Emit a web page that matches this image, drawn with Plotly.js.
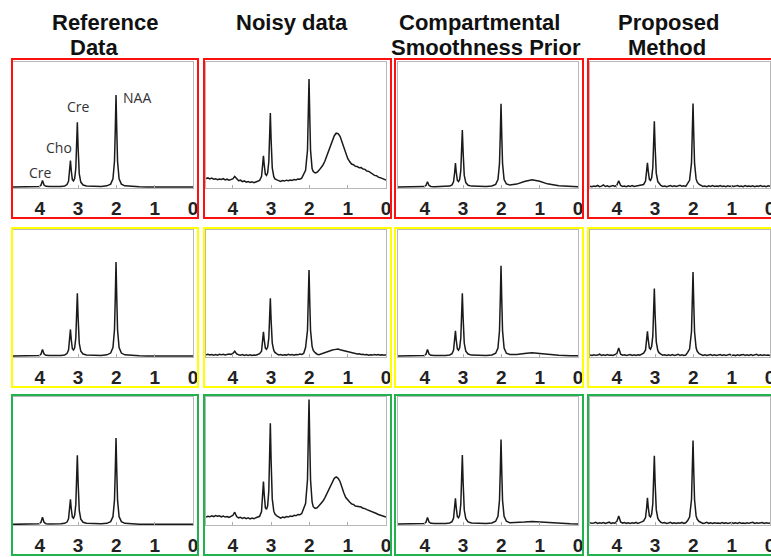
<!DOCTYPE html>
<html><head><meta charset="utf-8">
<script src="https://cdn.plot.ly/plotly-3.0.1.min.js"></script>
<style>html,body{margin:0;padding:0;background:#fff;} #chart{width:771px;height:557px;}</style>
</head><body><div id="chart"></div>
<script>
// ---------- data ----------
const columnTitles = [["Reference","Data"],["Noisy data"],["Compartmental","Smoothness Prior"],["Proposed","Method"]];
const tickValues = [4,3,2,1,0];
const tickLabels = ["4","3","2","1","0"];
const peakNames = ["Cre","Cho","Cre","NAA"];

// chemical-shift grids (ppm)
const ppmClean = [4.70,4.45,4.25,4.10,4.02,3.97,3.93,3.89,3.84,3.75,3.60,3.45,3.35,3.29,3.25,3.22,3.20,3.18,3.15,3.12,3.09,3.06,3.04,3.02,3.00,2.97,2.93,2.87,2.78,2.60,2.40,2.25,2.15,2.09,2.05,2.03,2.01,1.99,1.97,1.93,1.87,1.78,1.60,1.40,1.20,1.00,0.80,0.50,0.20,0.00];
const ppmDense = [4.70,4.65,4.60,4.55,4.50,4.45,4.40,4.35,4.30,4.25,
4.20,4.15,4.10,4.05,4.00,3.95,3.90,3.85,3.80,3.75,
3.70,3.65,3.60,3.55,3.50,3.45,3.40,3.35,3.30,3.25,
3.22,3.20,3.18,3.15,3.12,3.09,3.06,3.04,3.02,3.00,
2.97,2.93,2.90,2.85,2.80,2.75,2.70,2.65,2.60,2.55,
2.50,2.45,2.40,2.35,2.30,2.25,2.20,2.15,2.10,2.05,
2.03,2.01,1.99,1.97,1.93,1.90,1.85,1.80,1.75,1.70,
1.65,1.60,1.55,1.50,1.45,1.40,1.35,1.30,1.25,1.20,
1.15,1.10,1.05,1.00,0.95,0.90,0.85,0.80,0.75,0.70,
0.65,0.60,0.55,0.50,0.45,0.40,0.35,0.30,0.25,0.20,
0.15,0.10,0.05,0.00];

// Row 1 (red)
const refRow1 = [.008,.008,.008,.009,.012,.022,.059,.023,.013,.011,.010,.012,.016,.027,.054,.138,.218,.142,.066,.056,.075,.157,.324,.522,.322,.112,.047,.024,.016,.012,.012,.017,.031,.073,.212,.453,.738,.453,.212,.073,.031,.017,.011,.009,.008,.008,.008,.008,.008,.008];
const noisyRow1 = [.075,.080,.072,.078,.070,.074,.066,.072,.068,.074,
.064,.070,.062,.066,.072,.092,.070,.058,.062,.050,
.056,.046,.052,.044,.050,.042,.048,.052,.060,.090,
.180,.255,.185,.110,.100,.120,.210,.385,.595,.383,
.160,.090,.072,.064,.058,.052,.060,.055,.062,.058,
.064,.060,.068,.064,.072,.070,.078,.110,.140,.300,
.560,.865,.560,.300,.155,.130,.120,.125,.140,.158,
.180,.210,.250,.300,.345,.385,.415,.435,.432,.410,
.365,.315,.270,.235,.210,.190,.185,.172,.170,.160,
.162,.150,.148,.135,.132,.120,.115,.100,.098,.086,
.082,.074,.072,.064];
const compRow1 = [.008,.008,.008,.009,.011,.020,.049,.020,.012,.010,.010,.011,.015,.025,.049,.125,.197,.129,.060,.051,.068,.140,.287,.461,.285,.100,.043,.022,.015,.012,.012,.016,.029,.067,.193,.411,.668,.411,.193,.067,.032,.023,.031,.051,.066,.053,.033,.018,.012,.010];
const propRow1 = [.014,.010,.016,.012,.020,.011,.015,.024,.012,.017,
.010,.014,.019,.013,.022,.058,.020,.012,.016,.011,
.018,.013,.020,.012,.016,.014,.019,.022,.028,.055,
.132,.200,.136,.068,.060,.081,.163,.329,.530,.328,
.118,.051,.035,.020,.012,.016,.011,.015,.020,.013,
.017,.012,.016,.022,.014,.018,.013,.034,.061,.197,
.414,.670,.414,.197,.072,.046,.028,.018,.012,.016,
.011,.017,.013,.019,.012,.016,.013,.020,.012,.016,
.011,.018,.013,.017,.012,.015,.020,.012,.016,.011,
.019,.013,.016,.012,.018,.011,.016,.013,.019,.012,
.015,.011,.017,.013];

// Row 2 (yellow)
const refRow2 = [.008,.008,.008,.009,.012,.022,.059,.023,.013,.011,.010,.012,.016,.027,.054,.138,.217,.141,.065,.055,.073,.151,.311,.502,.310,.108,.046,.023,.016,.012,.012,.017,.031,.074,.215,.459,.748,.459,.215,.074,.031,.017,.011,.009,.008,.008,.008,.008,.008,.008];
const noisyRow2 = [.018,.022,.016,.020,.014,.019,.015,.021,.017,.022,
.016,.020,.024,.020,.028,.045,.024,.018,.014,.019,
.012,.017,.013,.018,.012,.016,.014,.020,.026,.045,
.131,.198,.135,.070,.061,.078,.148,.292,.463,.290,
.110,.052,.036,.024,.016,.020,.014,.018,.015,.021,
.016,.019,.014,.020,.017,.024,.020,.028,.074,.210,
.425,.685,.425,.210,.084,.052,.034,.022,.018,.024,
.030,.036,.042,.046,.052,.055,.058,.060,.062,.057,
.053,.048,.044,.040,.036,.034,.030,.028,.024,.026,
.020,.022,.017,.020,.014,.018,.015,.019,.016,.020,
.015,.018,.014,.017];
const compRow2 = [.008,.008,.008,.009,.012,.022,.059,.023,.013,.011,.010,.012,.016,.026,.052,.131,.207,.136,.064,.054,.073,.151,.311,.502,.310,.108,.046,.023,.015,.012,.011,.016,.030,.071,.207,.441,.718,.441,.207,.071,.030,.020,.020,.027,.033,.028,.020,.013,.010,.009];
const propRow2 = [.016,.012,.018,.013,.015,.022,.012,.017,.013,.020,
.014,.016,.012,.018,.026,.072,.022,.014,.018,.012,
.016,.020,.013,.017,.012,.018,.015,.021,.030,.056,
.133,.202,.138,.070,.062,.084,.166,.335,.540,.334,
.120,.052,.034,.022,.014,.018,.012,.017,.013,.019,
.012,.016,.022,.013,.017,.012,.016,.036,.063,.199,
.416,.670,.416,.199,.072,.045,.026,.016,.013,.018,
.012,.016,.020,.013,.017,.012,.015,.019,.012,.017,
.013,.016,.021,.012,.015,.011,.018,.013,.016,.020,
.012,.017,.013,.019,.012,.016,.021,.013,.017,.012,
.018,.013,.016,.012];

// Row 3 (green)
const refRow3 = [.005,.005,.005,.006,.009,.021,.061,.021,.010,.008,.007,.009,.013,.023,.048,.126,.200,.131,.061,.053,.075,.161,.335,.544,.334,.114,.046,.021,.013,.009,.009,.013,.026,.065,.194,.417,.680,.417,.194,.065,.026,.013,.008,.006,.005,.005,.005,.005,.005,.005];
const noisyRow3 = [.062,.068,.064,.072,.066,.074,.068,.072,.064,.070,
.062,.066,.060,.066,.074,.100,.066,.056,.060,.052,
.058,.050,.056,.048,.054,.050,.056,.060,.068,.105,
.230,.340,.240,.135,.122,.150,.267,.507,.795,.504,
.204,.108,.085,.072,.060,.054,.062,.058,.066,.062,
.070,.066,.076,.072,.082,.080,.090,.127,.168,.354,
.640,.980,.640,.354,.180,.143,.130,.135,.150,.165,
.185,.210,.240,.275,.310,.340,.365,.375,.365,.340,
.290,.250,.215,.195,.180,.165,.160,.148,.145,.138,
.140,.130,.128,.120,.115,.108,.104,.095,.090,.082,
.078,.070,.068,.062];
const compRow3 = [.008,.008,.008,.009,.012,.022,.059,.023,.013,.011,.010,.012,.016,.026,.052,.132,.208,.137,.065,.057,.078,.164,.339,.547,.337,.117,.049,.024,.016,.012,.011,.016,.029,.067,.193,.411,.668,.411,.193,.067,.029,.018,.018,.023,.028,.024,.017,.012,.009,.008];
const propRow3 = [.018,.013,.016,.021,.012,.017,.014,.019,.012,.016,
.022,.013,.018,.014,.028,.070,.024,.015,.019,.013,
.017,.012,.018,.014,.020,.013,.017,.024,.032,.058,
.138,.212,.142,.072,.063,.085,.166,.335,.540,.334,
.120,.053,.036,.021,.015,.019,.012,.016,.021,.013,
.017,.012,.018,.014,.020,.013,.017,.035,.062,.197,
.410,.660,.410,.197,.071,.044,.027,.017,.012,.016,
.021,.013,.017,.012,.018,.014,.016,.012,.019,.013,
.017,.012,.015,.020,.013,.017,.012,.019,.014,.016,
.012,.018,.013,.016,.021,.012,.017,.013,.016,.019,
.012,.017,.013,.016];

// ---------- layout ----------
const W = 771, H = 557;
const panels = [
  [ppmClean, refRow1],[ppmDense, noisyRow1],[ppmClean, compRow1],[ppmDense, propRow1],
  [ppmClean, refRow2],[ppmDense, noisyRow2],[ppmClean, compRow2],[ppmDense, propRow2],
  [ppmClean, refRow3],[ppmDense, noisyRow3],[ppmClean, compRow3],[ppmDense, propRow3]
];
const colPx = [[13,193],[206,386],[398,578],[590,770]];
const rowPx = [[62,188],[230,357],[397,525]];
const frameX = [[12,198],[204,391],[395,583],[588,784]];
const frameY = [[59,218],[228,387],[395,555]];
const rowColors = ['#ff1010','#ffff00','#22b14c'];

const traces = [];
const layout = {
  width: W, height: H,
  margin: {l:0, r:0, t:0, b:0, pad:0},
  paper_bgcolor: '#fff', plot_bgcolor: '#fff',
  showlegend: false,
  shapes: [], annotations: []
};

panels.forEach((p, i) => {
  const r = Math.floor(i / 4), c = i % 4;
  const s = i === 0 ? '' : String(i + 1);
  traces.push({
    type: 'scatter', mode: 'lines', x: p[0], y: p[1],
    xaxis: 'x' + s, yaxis: 'y' + s,
    line: {color: '#1a1a1a', width: 1.5},
    hoverinfo: 'skip'
  });
  layout['xaxis' + s] = {
    domain: [colPx[c][0] / W, colPx[c][1] / W], anchor: 'y' + s,
    range: [4.7, 0], autorange: false,
    showgrid: false, zeroline: false,
    showline: true, mirror: true, linecolor: '#b8b8b8', linewidth: 1,
    ticks: 'inside', ticklen: 3, tickcolor: '#aaaaaa', tickwidth: 1,
    tickvals: tickValues, ticktext: tickLabels,
    tickfont: {family: 'Liberation Sans, Arial, sans-serif', size: 19, color: '#222', weight: 'bold'},
    ticklabelstandoff: 3, ticklabeloverflow: 'allow', fixedrange: true
  };
  layout['yaxis' + s] = {
    domain: [1 - rowPx[r][1] / H, 1 - rowPx[r][0] / H], anchor: 'x' + s,
    range: [0, 1], autorange: false,
    showgrid: false, zeroline: false,
    showline: true, mirror: true, linecolor: '#b8b8b8', linewidth: 1,
    ticks: '', showticklabels: false, fixedrange: true
  };
  layout.shapes.push({
    type: 'rect', xref: 'paper', yref: 'paper',
    x0: frameX[c][0] / W, x1: frameX[c][1] / W,
    y0: 1 - frameY[r][1] / H, y1: 1 - frameY[r][0] / H,
    line: {color: rowColors[r], width: 2}, fillcolor: 'rgba(0,0,0,0)'
  });
});

// column titles
const titlePos = [[[105,23],[94,47]],[[292,23]],[[479,23],[486,47]],[[668,23],[667,47]]];
columnTitles.forEach((lines, c) => {
  lines.forEach((t, k) => {
    layout.annotations.push({
      xref: 'paper', yref: 'paper',
      x: titlePos[c][k][0] / W, y: 1 - titlePos[c][k][1] / H,
      xanchor: 'center', yanchor: 'middle', showarrow: false,
      text: t,
      font: {family: 'Liberation Sans, Arial, sans-serif', size: 22, color: '#111', weight: 'bold'}
    });
  });
});

// peak labels in the first panel
const peakLabelPos = [[3.97, 0.127],[3.50, 0.325],[2.98, 0.643],[1.46, 0.722]];
peakNames.forEach((n, k) => {
  layout.annotations.push({
    xref: 'x', yref: 'y', x: peakLabelPos[k][0], y: peakLabelPos[k][1],
    xanchor: 'center', yanchor: 'middle', showarrow: false, text: n,
    font: {family: 'Open Sans, Noto Sans, sans-serif', size: 14, color: '#333'}
  });
});

Plotly.newPlot('chart', traces, layout, {staticPlot: true, displayModeBar: false});
</script>
</body></html>
